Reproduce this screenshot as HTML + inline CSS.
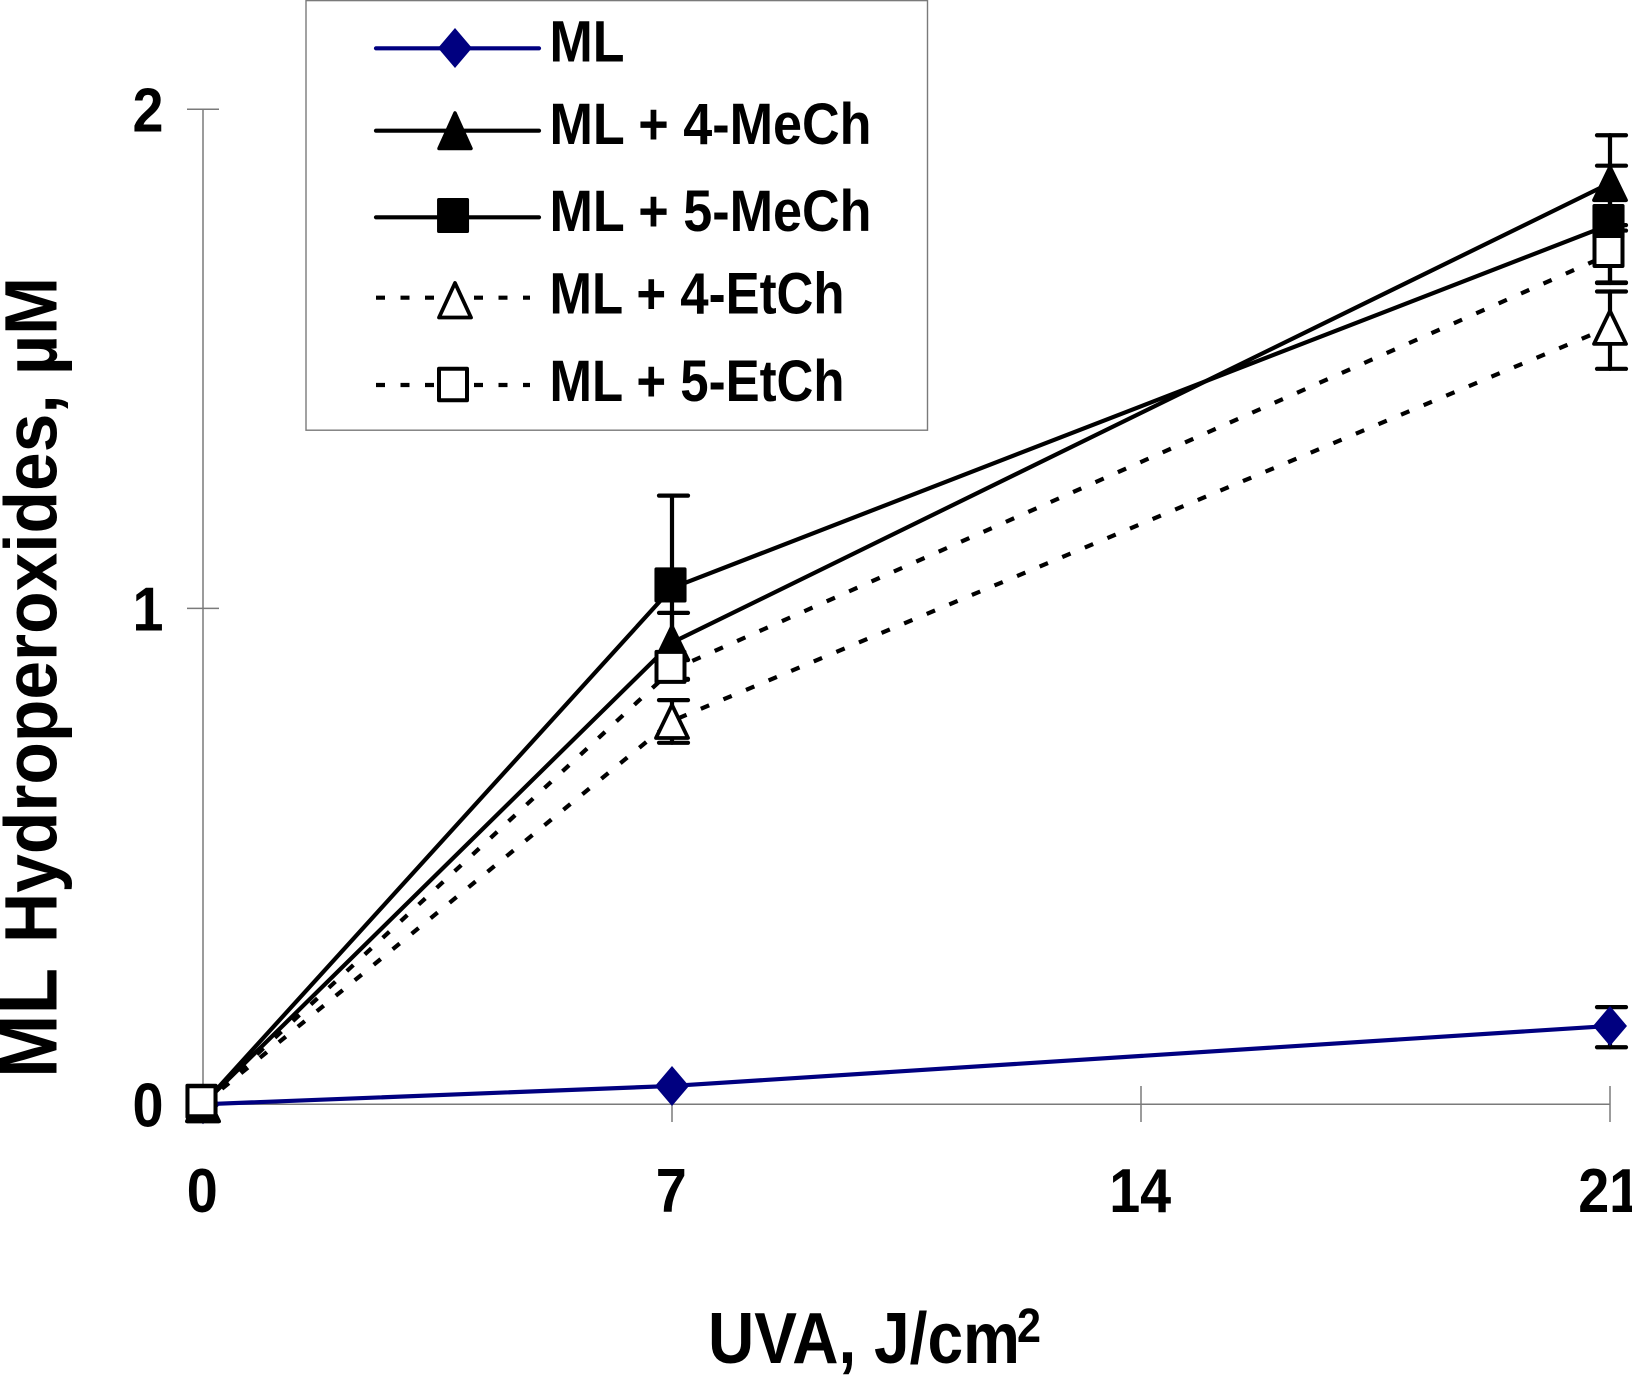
<!DOCTYPE html>
<html lang="en">
<head>
<meta charset="utf-8">
<title>ML Hydroperoxides vs UVA dose</title>
<style>
  html, body { margin: 0; padding: 0; background: #fff; }
  #chart { display: block; width: 1632px; height: 1375px; font-family: "Liberation Sans", Arial, sans-serif; font-weight: bold; }
  text { fill: #000; }
</style>
</head>
<body>
<svg id="chart" xmlns="http://www.w3.org/2000/svg" width="1632" height="1375" viewBox="0 0 1632 1375">
  <g id="axes"></g>
  <g id="marks"></g>

  <text transform="translate(56.7,1078) rotate(-90)" font-size="83" textLength="110" lengthAdjust="spacingAndGlyphs">ML</text>
  <text transform="translate(56.7,943) rotate(-90)" font-size="74" textLength="666" lengthAdjust="spacingAndGlyphs">Hydroperoxides, µM</text>

  <text x="708" y="1363" font-size="72" textLength="312" lengthAdjust="spacingAndGlyphs">UVA, J/cm</text>
  <text x="1017" y="1342" font-size="48" textLength="24" lengthAdjust="spacingAndGlyphs">2</text>

  <g>
    <rect x="306" y="0.6" width="621.5" height="429.6" fill="#fff" stroke="#7a7a7a" stroke-width="1.4"/>

    <g>
      <line x1="376" y1="48.3" x2="539" y2="48.3" stroke="#000080" stroke-width="4.2" stroke-linecap="round"/>
      <polygon points="455,28 472,48 455,68 438,48" fill="#000080"/>
      <text x="549.5" y="61.7" font-size="58" textLength="75" lengthAdjust="spacingAndGlyphs">ML</text>
    </g>
    <g>
      <line x1="376" y1="130.7" x2="539" y2="130.7" stroke="#000" stroke-width="4.2" stroke-linecap="round"/>
      <polygon points="455,113 471,148.500 439,148.500" fill="#000" stroke="#000" stroke-width="3.5" stroke-linejoin="round"/>
      <text x="549.5" y="144" font-size="58" textLength="322" lengthAdjust="spacingAndGlyphs">ML + 4-MeCh</text>
    </g>
    <g>
      <line x1="376" y1="217.3" x2="539" y2="217.3" stroke="#000" stroke-width="4.2" stroke-linecap="round"/>
      <rect x="438.800" y="199.800" width="28.500" height="31.500" fill="#000" stroke="#000" stroke-width="3.5" stroke-linejoin="round"/>
      <text x="549.5" y="231" font-size="58" textLength="322" lengthAdjust="spacingAndGlyphs">ML + 5-MeCh</text>
    </g>
    <g>
      <line x1="376" y1="297.7" x2="530" y2="297.7" stroke="#000" stroke-width="4.2" stroke-dasharray="9 15.5"/>
      <polygon points="455,283 471,317.500 439,317.500" fill="#fff" stroke="#000" stroke-width="3.8" stroke-linejoin="round"/>
      <text x="549.5" y="313.3" font-size="58" textLength="295" lengthAdjust="spacingAndGlyphs">ML + 4-EtCh</text>
    </g>
    <g>
      <line x1="376" y1="385" x2="530" y2="385" stroke="#000" stroke-width="4.2" stroke-dasharray="9 15.5"/>
      <rect x="439" y="368.800" width="28" height="31.500" fill="#fff" stroke="#000" stroke-width="4" stroke-linejoin="round"/>
      <text x="549.5" y="401" font-size="58" textLength="295" lengthAdjust="spacingAndGlyphs">ML + 5-EtCh</text>
    </g>
  </g>
</svg>

<script>
// ---- chart data ----
const doseCategories = [0, 7, 21];
const xTickValues = [0, 7, 14, 21];
const xTickLabels = ['0', '7', '14', '21'];
const yTickValues = [0, 1, 2];
const yTickLabels = ['0', '1', '2'];

const mlValues = [0, 0.037, 0.158];
const mlErrorTop = [0, 0.037, 0.196];
const mlErrorBottom = [0, 0.037, 0.115];

const me4Values = [0, 0.931, 1.852];
const me4ErrorTop = [0, 0.991, 1.948];
const me4ErrorBottom = [0, 0.896, 1.757];

const me5Values = [0, 1.041, 1.769];
const me5ErrorTop = [0, 1.226, 1.887];
const me5ErrorBottom = [0, 0.858, 1.653];

const et4Values = [0, 0.773, 1.564];
const et4ErrorTop = [0, 0.815, 1.635];
const et4ErrorBottom = [0, 0.729, 1.48];

const et5Values = [0, 0.876, 1.71];
const et5ErrorTop = [0, 0.896, 1.768];
const et5ErrorBottom = [0, 0.856, 1.652];

// ---- axis functions ----
function xPos(v) { return 203 + v * (1610 - 203) / 21; }
function yPos(v) { return v <= 1 ? 1104.3 - 495.9 * v : 608.4 - 499.1 * (v - 1); }

const NS = 'http://www.w3.org/2000/svg';
const axesGroup = document.getElementById('axes');
const marksGroup = document.getElementById('marks');

function make(tag, parent, attrs) {
  const el = document.createElementNS(NS, tag);
  for (const k in attrs) el.setAttribute(k, attrs[k]);
  parent.appendChild(el);
  return el;
}

// ---- axes ----
const axisStyle = { stroke: '#7a7a7a', 'stroke-width': 1.5, fill: 'none' };

const yAxisLine = make('line', axesGroup, Object.assign({ x1: xPos(0), x2: xPos(0), y1: yPos(2), y2: yPos(0) }, axisStyle));



const xAxisLine = make('line', axesGroup, Object.assign({ x1: xPos(0), x2: xPos(21), y1: yPos(0), y2: yPos(0) }, axisStyle));



yTickValues.forEach(function (v, i) {
  const tick = make('line', axesGroup, Object.assign({ x1: 187, x2: 219, y1: yPos(v), y2: yPos(v) }, axisStyle));
  
  
  const label = make('text', axesGroup, { x: 148, y: yPos(v) + 22, 'font-size': 62, 'text-anchor': 'middle', textLength: 31, lengthAdjust: 'spacingAndGlyphs' });
  label.textContent = yTickLabels[i];
  
  
});

xTickValues.forEach(function (v, i) {
  const tick = make('line', axesGroup, Object.assign({ x1: xPos(v), x2: xPos(v), y1: 1086, y2: 1122 }, axisStyle));
  
  
  const text = xTickLabels[i];
  const label = make('text', axesGroup, { x: xPos(v) - 0.8, y: 1212, 'font-size': 62, 'text-anchor': 'middle', textLength: 31 * text.length, lengthAdjust: 'spacingAndGlyphs' });
  label.textContent = text;
  
  
});

// ---- series ----
const LINE_W = 4.2;

function drawMarker(kind, parent, cx, cy, color) {
  if (kind === 'diamond') {
    return make('polygon', parent, { points: [[cx, cy - 20], [cx + 17, cy], [cx, cy + 20], [cx - 17, cy]].join(' '), fill: color });
  }
  if (kind === 'triangle' || kind === 'triangle-open') {
    return make('polygon', parent, {
      points: [[cx, cy - 16], [cx + 16, cy + 17], [cx - 16, cy + 17]].join(' '),
      fill: kind === 'triangle' ? '#000' : '#fff', stroke: '#000', 'stroke-width': 3.8, 'stroke-linejoin': 'round'
    });
  }
  if (kind === 'square') {
    return make('rect', parent, { x: cx - 16 + 1.7, y: cy - 3 - 17.5 + 1.7, width: 28.6, height: 31.6, fill: '#000', stroke: '#000', 'stroke-width': 3.5, 'stroke-linejoin': 'round' });
  }
  return make('rect', parent, { x: cx - 14, y: cy - 3 - 15, width: 28, height: 30, fill: '#fff', stroke: '#000', 'stroke-width': 4, 'stroke-linejoin': 'round' });
}

function drawSeries(name, values, errTop, errBottom, color, dash, marker) {
  const g = make('g', marksGroup, {});
  
  

  const pts = doseCategories.map(function (d, i) { return xPos(d) + ',' + yPos(values[i]); }).join(' ');
  const line = make('polyline', g, { points: pts, fill: 'none', stroke: color, 'stroke-width': LINE_W, 'stroke-linejoin': 'round' });
  if (dash) line.setAttribute('stroke-dasharray', dash);
  
  

  doseCategories.forEach(function (d, i) {
    if (errTop[i] === errBottom[i]) return;
    const x = xPos(d);
    const eb = make('g', g, { stroke: '#000', 'stroke-width': LINE_W, 'stroke-linecap': 'round' });
    
    
    make('line', eb, { x1: x, x2: x, y1: yPos(errTop[i]), y2: yPos(errBottom[i]) });
    make('line', eb, { x1: x - 13, x2: x + 16, y1: yPos(errTop[i]), y2: yPos(errTop[i]) });
    make('line', eb, { x1: x - 13, x2: x + 16, y1: yPos(errBottom[i]), y2: yPos(errBottom[i]) });
  });

  doseCategories.forEach(function (d, i) {
    const m = drawMarker(marker, g, xPos(d) + (marker.indexOf('square') === 0 ? -1.5 : 0), yPos(values[i]), color);
    
    
  });
}

drawSeries('ml', mlValues, mlErrorTop, mlErrorBottom, '#000080', null, 'diamond');
drawSeries('ml-4-etch', et4Values, et4ErrorTop, et4ErrorBottom, '#000', '9 15.5', 'triangle-open');
drawSeries('ml-4-mech', me4Values, me4ErrorTop, me4ErrorBottom, '#000', null, 'triangle');
drawSeries('ml-5-mech', me5Values, me5ErrorTop, me5ErrorBottom, '#000', null, 'square');
drawSeries('ml-5-etch', et5Values, et5ErrorTop, et5ErrorBottom, '#000', '9 15.5', 'square-open');
</script>
</body>
</html>
